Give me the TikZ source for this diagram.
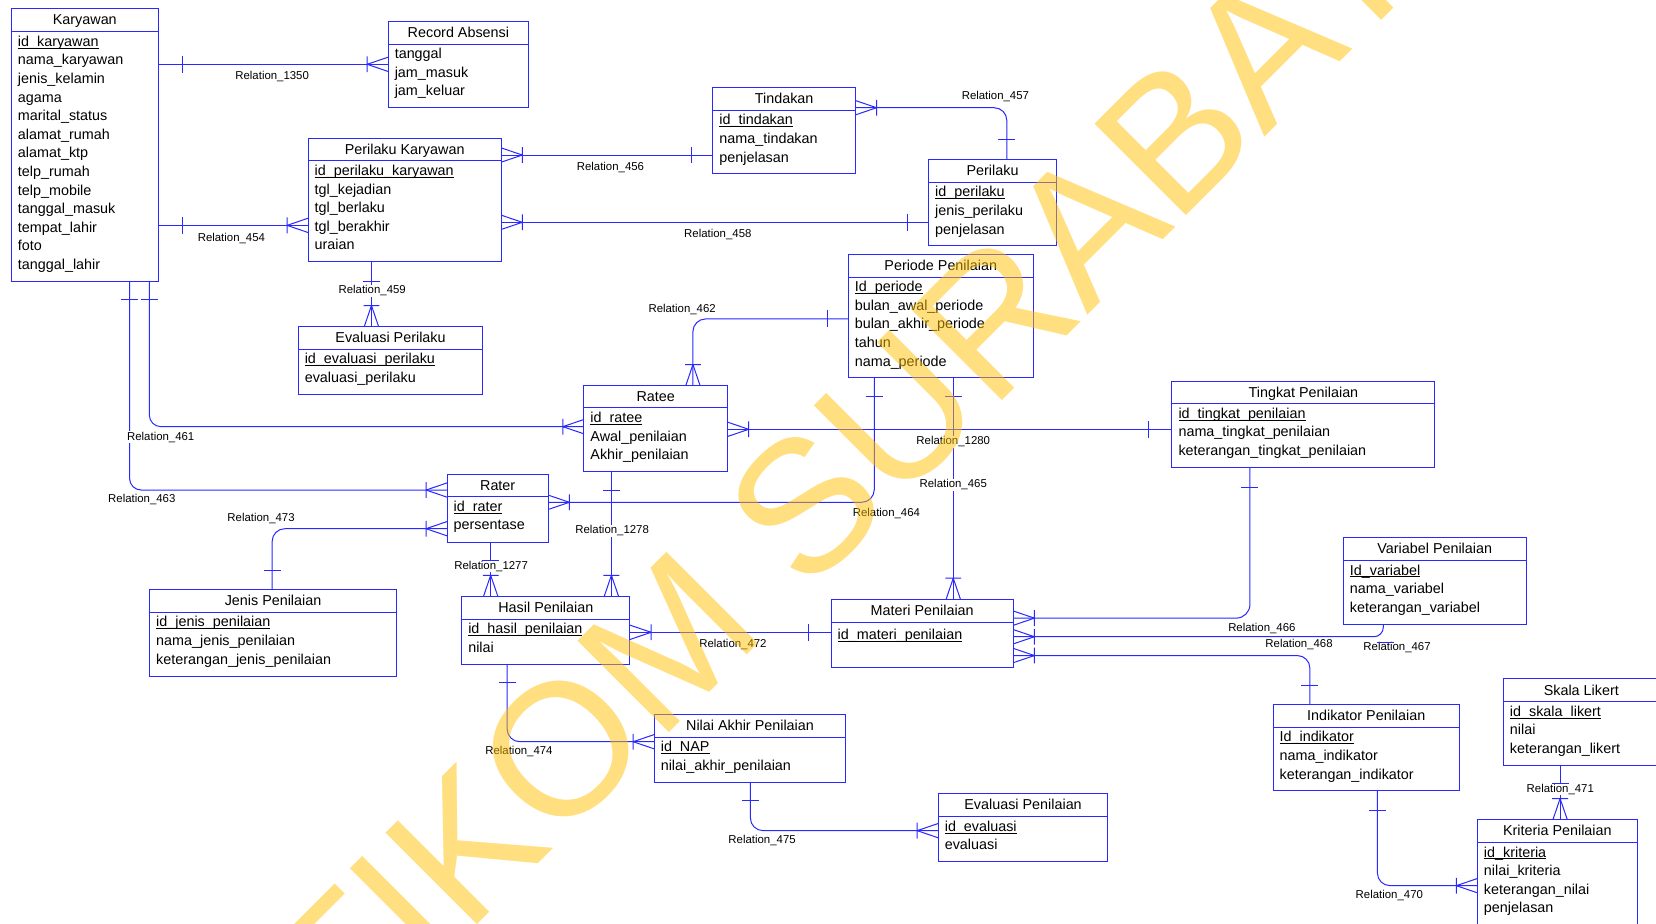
\documentclass[tikz,border=0pt]{standalone}
\usepackage{fontspec}
\setmainfont{Liberation Sans}
\usetikzlibrary{calc}
\definecolor{erblue}{RGB}{40,40,255}
\definecolor{wmyellow}{RGB}{255,192,0}
\newsavebox\pkbox
\newcommand{\pkey}[1]{\sbox\pkbox{#1}\rlap{\rule[-2.2pt]{\wd\pkbox}{0.8pt}}\usebox\pkbox}
\newcommand{\entity}[8]{%
  \node[ent, minimum width={#4-#2}, minimum height={#6-#3}] (#1) at (#2,#3) {};
  \draw[ent line] (#2,#5) -- (#4,#5);
  \node[ent title] (#1-t) at ({(#2+#4)/2},{#3+15.4}) {#7};
  \node[ent attrs] (#1-a) at ({#2+6},{#5+3.8}) {#8};
}
\tikzset{
  ent/.style={draw=erblue,line width=0.95pt,rectangle,inner sep=0pt,outer sep=0pt,anchor=north west},
  ent line/.style={draw=erblue,line width=0.95pt},
  ent title/.style={font=\fontsize{13.6}{17.6}\selectfont,inner sep=0pt,anchor=base},
  ent attrs/.style={font=\fontsize{13.6}{17.6}\selectfont,inner sep=0pt,anchor=north west,align=left,execute at begin node=\strut},
  rel/.style={draw=erblue,line width=0.95pt,rounded corners=12pt},
  rlabel/.style={font=\fontsize{10.8}{13}\selectfont,fill=white,inner sep=0.6pt},
  crowfoot/.pic={\draw[erblue,line width=0.95pt] (-20,0) -- (0,-6.8) (-20,0) -- (0,6.8) (-20,-7.5) -- (-20,7.5);},
  onebar/.pic={\draw[erblue,line width=0.95pt] (0,-8) -- (0,8);}
}
\begin{document}
\begin{tikzpicture}[x=1pt,y=-1pt]
\path[fill=white] (0,0) rectangle (1568,874);
\useasboundingbox (0,0) rectangle (1568,874);

% ---------------- entities ----------------
\entity{kar}{10.8}{7.9}{149.8}{30}{266.7}{Karyawan}{\pkey{id\_karyawan}\\nama\_karyawan\\jenis\_kelamin\\agama\\marital\_status\\alamat\_rumah\\alamat\_ktp\\telp\_rumah\\telp\_mobile\\tanggal\_masuk\\tempat\_lahir\\foto\\tanggal\_lahir}
\entity{rec}{367.6}{20.5}{500.5}{41.7}{102}{Record Absensi}{tanggal\\jam\_masuk\\jam\_keluar}
\entity{pk}{291.8}{131}{474.5}{152.4}{247.8}{Perilaku Karyawan}{\pkey{id\_perilaku\_karyawan}\\tgl\_kejadian\\tgl\_berlaku\\tgl\_berakhir\\uraian}
\entity{tin}{675}{83}{810}{104.5}{164.5}{Tindakan}{\pkey{id\_tindakan}\\nama\_tindakan\\penjelasan}
\entity{per}{879.3}{151.2}{1000.3}{172.6}{232.9}{Perilaku}{\pkey{id\_perilaku}\\jenis\_perilaku\\penjelasan}
\entity{pp}{803.2}{241.2}{978.3}{262.3}{357.9}{Periode Penilaian}{\pkey{Id\_periode}\\bulan\_awal\_periode\\bulan\_akhir\_periode\\tahun\\nama\_periode}
\entity{ep}{282.4}{309.3}{457.2}{330.8}{373.1}{Evaluasi Perilaku}{\pkey{id\_evaluasi\_perilaku}\\evaluasi\_perilaku}
\entity{rat}{552.9}{365.2}{688.9}{386.3}{446.6}{Ratee}{\pkey{id\_ratee}\\Awal\_penilaian\\Akhir\_penilaian}
\entity{tp}{1109.7}{360.8}{1358.6}{382.2}{442.5}{Tingkat Penilaian}{\pkey{id\_tingkat\_penilaian}\\nama\_tingkat\_penilaian\\keterangan\_tingkat\_penilaian}
\entity{vp}{1272}{509.1}{1445}{530.6}{590.9}{Variabel Penilaian}{\pkey{Id\_variabel}\\nama\_variabel\\keterangan\_variabel}
\entity{rtr}{423.4}{449.1}{519.1}{470.3}{513.5}{Rater}{\pkey{id\_rater}\\persentase}
\entity{jp}{141.7}{558}{375.4}{579.8}{640.1}{Jenis Penilaian}{\pkey{id\_jenis\_penilaian}\\nama\_jenis\_penilaian\\keterangan\_jenis\_penilaian}
\entity{hp}{437.2}{564.7}{596.5}{586.4}{629}{Hasil Penilaian}{\pkey{id\_hasil\_penilaian}\\nilai}
\entity{mp}{787}{567.5}{959.4}{589.3}{631.9}{Materi Penilaian}{\pkey{id\_materi\_penilaian}}
\entity{nap}{619.5}{676.7}{800.8}{697.9}{740.8}{Nilai Akhir Penilaian}{\pkey{id\_NAP}\\nilai\_akhir\_penilaian}
\entity{evp}{888.4}{751.5}{1049}{773}{815.6}{Evaluasi Penilaian}{\pkey{id\_evaluasi}\\evaluasi}
\entity{ind}{1205.4}{667.2}{1381.8}{688.7}{748.7}{Indikator Penilaian}{\pkey{Id\_indikator}\\nama\_indikator\\keterangan\_indikator}
\entity{sl}{1423.5}{642.9}{1571}{664.4}{724.4}{Skala Likert}{\pkey{id\_skala\_likert}\\nilai\\keterangan\_likert}
\entity{kp}{1398.9}{776.1}{1550.3}{797.6}{876}{Kriteria Penilaian}{\pkey{id\_kriteria}\\nilai\_kriteria\\keterangan\_nilai\\penjelasan}

% ---------------- routing coordinates ----------------
\coordinate (b1350) at (0,60.9);
\coordinate (b454) at (0,213.4);
\coordinate (b456) at (0,146.8);
\coordinate (b458) at (0,210.5);
\coordinate (b457) at (953.3,102);
\coordinate (b459) at (351.7,0);
\coordinate (b461) at (141.4,404);
\coordinate (b463) at (122.7,464);
\coordinate (b473) at (257.7,500.6);
\coordinate (b1277) at (464.6,0);
\coordinate (b462) at (656.1,302);
\coordinate (b1280) at (0,406.5);
\coordinate (b464) at (827.8,475.6);
\coordinate (b465) at (902.6,0);
\coordinate (b1278) at (578.9,0);
\coordinate (b472) at (0,598.7);
\coordinate (b474) at (480.2,702.3);
\coordinate (b475) at (710.5,786.5);
\coordinate (b466) at (1183.5,585.3);
\coordinate (b467) at (1309.8,602.9);
\coordinate (b468) at (1240.3,620.7);
\coordinate (b470) at (1304.2,838.6);
\coordinate (b471) at (1477.2,0);

% ---------------- connectors ----------------
\draw[rel] (kar.east |- b1350) -- (rec.west |- b1350);
\draw[rel] (kar.east |- b454) -- (pk.west |- b454);
\draw[rel] (pk.east |- b456) -- (tin.west |- b456);
\draw[rel] (pk.east |- b458) -- (per.west |- b458);
\draw[rel] (tin.east |- b457) -| (per.north -| b457);
\draw[rel] (pk.south -| b459) -- (ep.north -| b459);
\draw[rel, rounded corners=11pt] (kar.south -| b461) |- (rat.west |- b461);
\draw[rel, rounded corners=11pt] (kar.south -| b463) |- (rtr.west |- b463);
\draw[rel] (jp.north -| b473) |- (rtr.west |- b473);
\draw[rel] (rtr.south -| b1277) -- (hp.north -| b1277);
\draw[rel] (pp.west |- b462) -| (rat.north -| b462);
\draw[rel] (rat.east |- b1280) -- (tp.west |- b1280);
\draw[rel] (pp.south -| b464) |- (rtr.east |- b464);
\draw[rel] (pp.south -| b465) -- (mp.north -| b465);
\draw[rel] (rat.south -| b1278) -- (hp.north -| b1278);
\draw[rel] (hp.east |- b472) -- (mp.west |- b472);
\draw[rel] (hp.south -| b474) |- (nap.west |- b474);
\draw[rel] (nap.south -| b475) |- (evp.west |- b475);
\draw[rel, rounded corners=13pt] (mp.east |- b466) -| (tp.south -| b466);
\draw[rel, rounded corners=9pt] (mp.east |- b467) -| (vp.south -| b467);
\draw[rel] (mp.east |- b468) -| (ind.north -| b468);
\draw[rel] (ind.south -| b470) |- (kp.west |- b470);
\draw[rel] (sl.south -| b471) -- (kp.north -| b471);

% ---------------- relation labels ----------------
\node[rlabel] (l1350) at (257.7,72.9) {Relation\_1350};
\node[rlabel] (l454) at (219.1,225.4) {Relation\_454};
\node[rlabel] (l456) at (578,159) {Relation\_456};
\node[rlabel] (l458) at (679.7,222.5) {Relation\_458};
\node[rlabel] (l457) at (942.5,91.8) {Relation\_457};
\node[rlabel] (l459) at (352.4,275.5) {Relation\_459};
\node[rlabel] (l461) at (152.2,413.8) {Relation\_461};
\node[rlabel] (l463) at (134.3,473.4) {Relation\_463};
\node[rlabel] (l473) at (247.2,491.4) {Relation\_473};
\node[rlabel] (l1277) at (465,536) {Relation\_1277};
\node[rlabel] (l462) at (645.9,292.6) {Relation\_462};
\node[rlabel] (l1280) at (902.6,418.5) {Relation\_1280};
\node[rlabel] (l464) at (839.3,486) {Relation\_464};
\node[rlabel] (l465) at (902.6,459.2) {Relation\_465};
\node[rlabel] (l1278) at (579.6,502.5) {Relation\_1278};
\node[rlabel] (l472) at (694,610.7) {Relation\_472};
\node[rlabel] (l474) at (491.4,711.1) {Relation\_474};
\node[rlabel] (l475) at (721.6,795.4) {Relation\_475};
\node[rlabel] (l466) at (1194.8,594.7) {Relation\_466};
\node[rlabel] (l467) at (1322.8,612.8) {Relation\_467};
\node[rlabel] (l468) at (1230,610.7) {Relation\_468};
\node[rlabel] (l470) at (1315.5,847.5) {Relation\_470};
\node[rlabel] (l471) at (1477.4,747.1) {Relation\_471};

% ---------------- crow's feet (many side) ----------------
\pic at (rec.west |- b1350) {crowfoot};
\pic at (pk.west |- b454) {crowfoot};
\pic[rotate=180] at (pk.east |- b456) {crowfoot};
\pic[rotate=180] at (pk.east |- b458) {crowfoot};
\pic[rotate=180] at (tin.east |- b457) {crowfoot};
\pic[rotate=-90] at (ep.north -| b459) {crowfoot};
\pic at (rat.west |- b461) {crowfoot};
\pic at (rtr.west |- b463) {crowfoot};
\pic at (rtr.west |- b473) {crowfoot};
\pic[rotate=-90] at (hp.north -| b1277) {crowfoot};
\pic[rotate=-90] at (rat.north -| b462) {crowfoot};
\pic[rotate=180] at (rat.east |- b1280) {crowfoot};
\pic[rotate=180] at (rtr.east |- b464) {crowfoot};
\pic[rotate=-90] at (mp.north -| b465) {crowfoot};
\pic[rotate=-90] at (hp.north -| b1278) {crowfoot};
\pic[rotate=180] at (hp.east |- b472) {crowfoot};
\pic at (nap.west |- b474) {crowfoot};
\pic at (evp.west |- b475) {crowfoot};
\pic[rotate=180] at (mp.east |- b466) {crowfoot};
\pic[rotate=180] at (mp.east |- b467) {crowfoot};
\pic[rotate=180] at (mp.east |- b468) {crowfoot};
\pic at (kp.west |- b470) {crowfoot};
\pic[rotate=-90] at (kp.north -| b471) {crowfoot};

% ---------------- one-marks ----------------
\pic at (172.5,60.9) {onebar};
\pic at (172.5,213.4) {onebar};
\pic at (655,146.8) {onebar};
\pic at (859,210.5) {onebar};
\pic[rotate=90] at (953.3,131.9) {onebar};
\pic[rotate=90] at (351.7,266.7) {onebar};
\pic[rotate=90] at (141.4,284) {onebar};
\pic[rotate=90] at (122.7,284) {onebar};
\pic[rotate=90] at (257.7,540.4) {onebar};
\pic[rotate=90] at (464.6,530.6) {onebar};
\pic at (783.5,302) {onebar};
\pic at (1087.8,406.5) {onebar};
\pic[rotate=90] at (827.8,375.6) {onebar};
\pic[rotate=90] at (902.6,375.6) {onebar};
\pic[rotate=90] at (578.9,464) {onebar};
\pic at (765.6,598.7) {onebar};
\pic[rotate=90] at (480.2,646.1) {onebar};
\pic[rotate=90] at (710.5,758.4) {onebar};
\pic[rotate=90] at (1183.5,461.4) {onebar};
\pic[rotate=90] at (1311.5,608.2) {onebar};
\pic[rotate=90] at (1240.3,649.2) {onebar};
\pic[rotate=90] at (1304.2,767.6) {onebar};
\pic[rotate=90] at (1477.2,742) {onebar};

% ---------------- watermark ----------------
\node[rotate=45, text=wmyellow, text opacity=0.5, inner sep=0pt, font=\fontsize{178}{200}\selectfont] (wmark) at (795,446) {STIKOM SURABAYA};
\end{tikzpicture}
\end{document}
